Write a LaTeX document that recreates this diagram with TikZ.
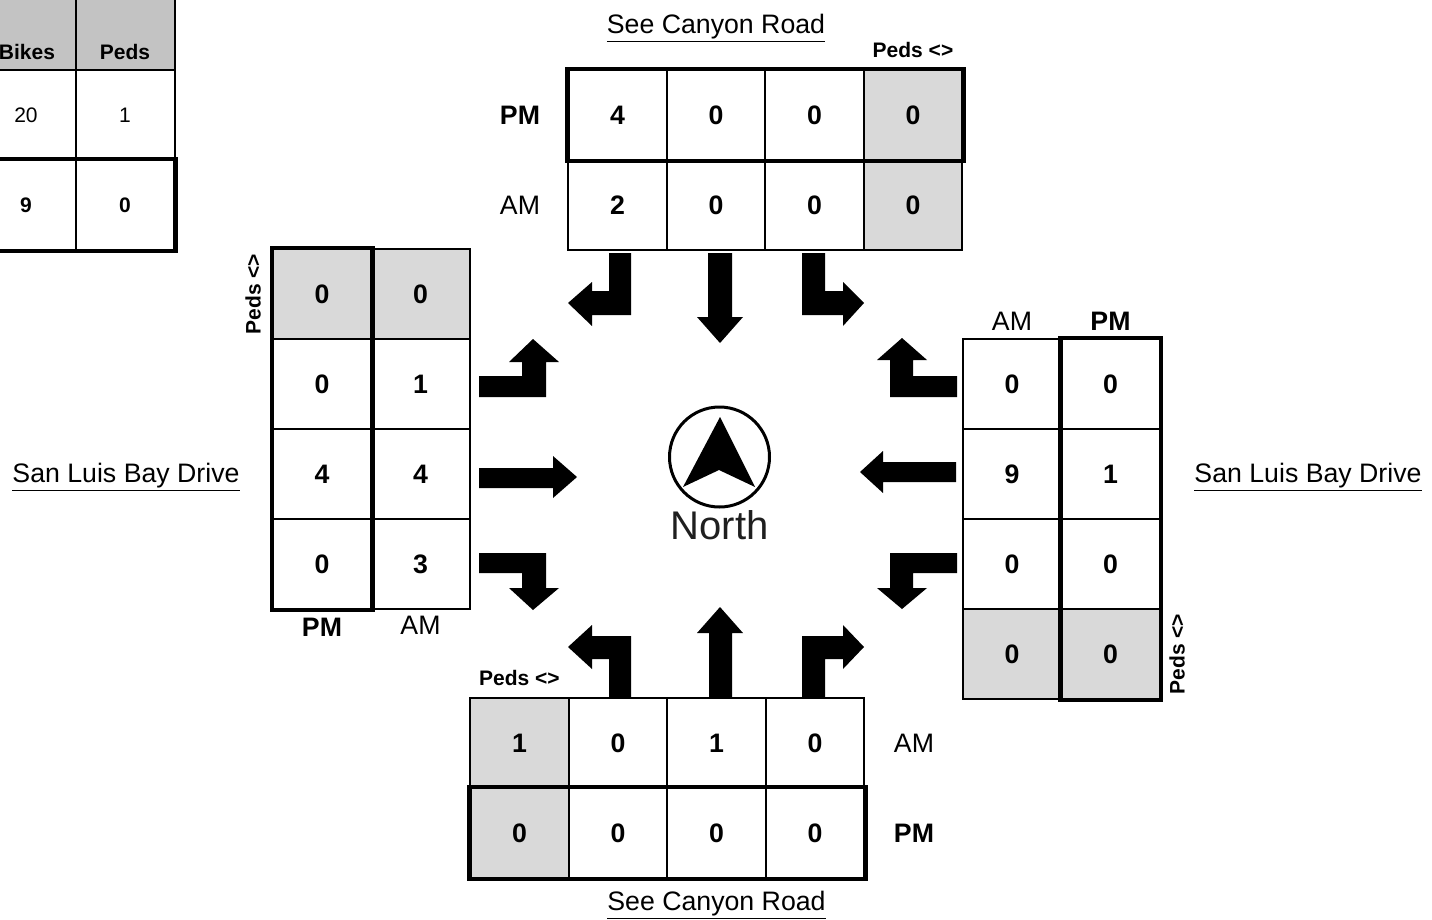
\documentclass[tikz,border=0pt]{standalone}
\usepackage{fontspec}
\setmainfont{Liberation Sans}
\usetikzlibrary{positioning}

\newcommand{\bigtxt}{\fontsize{26.7}{32}\selectfont}
\newcommand{\smalltxt}{\fontsize{21}{25}\selectfont}

\definecolor{pedgray}{HTML}{D9D9D9}
\definecolor{headgray}{HTML}{C3C3C3}

\tikzset{
  cell/.style = {draw, line width=2pt, minimum width=98.5pt, minimum height=90pt, inner sep=0pt, font=\bigtxt\bfseries},
  pedcell/.style = {cell, fill=pedgray},
  sumcell/.style = {draw, line width=2pt, minimum width=99pt, minimum height=90pt, inner sep=0pt, font=\smalltxt},
  sumbold/.style = {sumcell, font=\smalltxt\bfseries},
  sumhead/.style = {sumcell, fill=headgray},
  thickbox/.style = {line width=4.5pt},
  lbl/.style = {font=\bigtxt, inner sep=0pt},
  blbl/.style = {font=\bigtxt\bfseries, inner sep=0pt},
  pedlbl/.style = {font=\smalltxt\bfseries, inner sep=0pt},
  road/.style = {font=\bigtxt, inner sep=0pt},
}

\begin{document}
\begin{tikzpicture}[ x=1pt , y=-1pt , node distance = 90pt and 98.5pt , on grid ]
\useasboundingbox (0,0) rectangle (1432,919);
\clip (0,0) rectangle (1432,919);

% totals table, top left
\node [ sumhead ] (s_h_1) at (26,25) {};
\node [ sumhead ] (s_h_2) [ right = 99pt of s_h_1 ] {};
\node [ pedlbl ] (h_bikes) at (27,52) {Bikes};
\node [ pedlbl ] (h_peds) at (125,52) {Peds};
\node [ sumcell ] (s_r1_1) [ below = of s_h_1 ] {20};
\node [ sumcell ] (s_r1_2) [ below = of s_h_2 ] {1};
\node [ sumbold ] (s_r2_1) [ below = of s_r1_1 ] {9};
\node [ sumbold ] (s_r2_2) [ below = of s_r1_2 ] {0};
\draw [ thickbox ] (s_r2_1.north west) rectangle (s_r2_2.south east);

% north leg
\node [ cell ] (n_pm_1) at (617.5,115) {4};
\node [ cell ] (n_pm_2) [ right = of n_pm_1 ] {0};
\node [ cell ] (n_pm_3) [ right = of n_pm_2 ] {0};
\node [ pedcell ] (n_pm_4) [ right = of n_pm_3 ] {0};
\node [ cell ] (n_am_1) [ below = of n_pm_1 ] {2};
\node [ cell ] (n_am_2) [ below = of n_pm_2 ] {0};
\node [ cell ] (n_am_3) [ below = of n_pm_3 ] {0};
\node [ pedcell ] (n_am_4) [ below = of n_pm_4 ] {0};
\draw [ thickbox ] (n_pm_1.north west) rectangle (n_pm_4.south east);
\node [ blbl ] (n_pm) [ left = 97.5pt of n_pm_1 ] {PM};
\node [ lbl ] (n_am) [ left = 97.5pt of n_am_1 ] {AM};
\node [ pedlbl ] (n_peds) [ above = 65pt of n_pm_4 ] {Peds <>};
\node [ road ] (n_road) [ above = 87pt of n_pm_2 ] {\underline{See Canyon Road}};

% west leg
\node [ pedcell ] (l_pm_1) at (322,294) {0};
\node [ cell ] (l_pm_2) [ below = of l_pm_1 ] {0};
\node [ cell ] (l_pm_3) [ below = of l_pm_2 ] {4};
\node [ cell ] (l_pm_4) [ below = of l_pm_3 ] {0};
\node [ pedcell ] (l_am_1) [ right = of l_pm_1 ] {0};
\node [ cell ] (l_am_2) [ below = of l_am_1 ] {1};
\node [ cell ] (l_am_3) [ below = of l_am_2 ] {4};
\node [ cell ] (l_am_4) [ below = of l_am_3 ] {3};
\draw [ thickbox ] (l_pm_1.north west) rectangle (l_pm_4.south east);
\node [ blbl ] (l_pm) [ below = 63pt of l_pm_4 ] {PM};
\node [ lbl ] (l_am) [ below = 61pt of l_am_4 ] {AM};
\node [ pedlbl , rotate=90 ] (l_peds) [ left = 69pt of l_pm_1 ] {Peds <>};
\node [ road ] (w_road) at (126,477) {\underline{San Luis Bay Drive}};

% east leg
\node [ cell ] (r_am_1) at (1012,384) {0};
\node [ cell ] (r_am_2) [ below = of r_am_1 ] {9};
\node [ cell ] (r_am_3) [ below = of r_am_2 ] {0};
\node [ pedcell ] (r_am_4) [ below = of r_am_3 ] {0};
\node [ cell ] (r_pm_1) [ right = of r_am_1 ] {0};
\node [ cell ] (r_pm_2) [ below = of r_pm_1 ] {1};
\node [ cell ] (r_pm_3) [ below = of r_pm_2 ] {0};
\node [ pedcell ] (r_pm_4) [ below = of r_pm_3 ] {0};
\draw [ thickbox ] (r_pm_1.north west) rectangle (r_pm_4.south east);
\node [ lbl ] (r_am) [ above = 63pt of r_am_1 ] {AM};
\node [ blbl ] (r_pm) [ above = 63pt of r_pm_1 ] {PM};
\node [ pedlbl , rotate=90 ] (r_peds) [ right = 66.5pt of r_pm_4 ] {Peds <>};
\node [ road ] (e_road) at (1308,477) {\underline{San Luis Bay Drive}};

% south leg
\node [ pedcell ] (b_am_1) at (519.5,743) {1};
\node [ cell ] (b_am_2) [ right = of b_am_1 ] {0};
\node [ cell ] (b_am_3) [ right = of b_am_2 ] {1};
\node [ cell ] (b_am_4) [ right = of b_am_3 ] {0};
\node [ pedcell ] (b_pm_1) [ below = of b_am_1 ] {0};
\node [ cell ] (b_pm_2) [ below = of b_am_2 ] {0};
\node [ cell ] (b_pm_3) [ below = of b_am_3 ] {0};
\node [ cell ] (b_pm_4) [ below = of b_am_4 ] {0};
\draw [ thickbox ] (b_pm_1.north west) rectangle (b_pm_4.south east);
\node [ lbl ] (b_am) [ right = 99pt of b_am_4 ] {AM};
\node [ blbl ] (b_pm) [ right = 99pt of b_pm_4 ] {PM};
\node [ pedlbl ] (b_peds) [ above = 65pt of b_am_1 ] {Peds <>};
\node [ road ] (s_road) [ below = 72pt of b_pm_3 ] {\underline{See Canyon Road}};

% turning arrows
\fill (609,253) -- (631,253) -- (631,315) -- (592,315) -- (592,326) -- (568,303) -- (592,282) -- (592,291) -- (609,291) -- cycle;
\fill (708,253) -- (732,253) -- (732,317) -- (743,317) -- (720,343) -- (697,317) -- (708,317) -- cycle;
\fill (802,253) -- (825,253) -- (825,291) -- (843,291) -- (843,282) -- (864,303) -- (843,326) -- (843,315) -- (802,315) -- cycle;

\fill (609,697) -- (609,659) -- (592,659) -- (592,669) -- (568,647) -- (592,625) -- (592,636) -- (631,636) -- (631,697) -- cycle;
\fill (709,697) -- (709,633) -- (697,633) -- (720,607) -- (743,633) -- (732,633) -- (732,697) -- cycle;
\fill (802,697) -- (802,636) -- (843,636) -- (843,625) -- (864,647) -- (843,669) -- (843,659) -- (825,659) -- (825,697) -- cycle;

\fill (479,376) -- (522,376) -- (522,362) -- (509,362) -- (533,339) -- (559,362) -- (546,362) -- (546,397) -- (479,397) -- cycle;
\fill (479,468) -- (553,468) -- (553,456) -- (577,477) -- (553,498) -- (553,488) -- (479,488) -- cycle;
\fill (479,553) -- (546,553) -- (546,588) -- (559,588) -- (533,610) -- (509,588) -- (522,588) -- (522,573) -- (479,573) -- cycle;

\fill (957,376) -- (913,376) -- (913,360) -- (927,360) -- (902,338) -- (877,360) -- (890,360) -- (890,397) -- (957,397) -- cycle;
\fill (956,462) -- (883,462) -- (883,451) -- (860,472) -- (883,493) -- (883,482) -- (956,482) -- cycle;
\fill (957,553) -- (890,553) -- (890,588) -- (877,588) -- (902,609) -- (927,588) -- (913,588) -- (913,573) -- (957,573) -- cycle;

% north sign
\node [ circle , draw , line width=3pt , minimum size=100pt , inner sep=0pt ] (compass) at (719.5,457) {};
\fill (720,417) -- (755,487) -- (719,470) -- (683,487) -- cycle;
\node [ font=\fontsize{40}{46}\selectfont , text=black!88 , inner sep=0pt ] (north) [ below = 68pt of compass ] {North};
\end{tikzpicture}
\end{document}
